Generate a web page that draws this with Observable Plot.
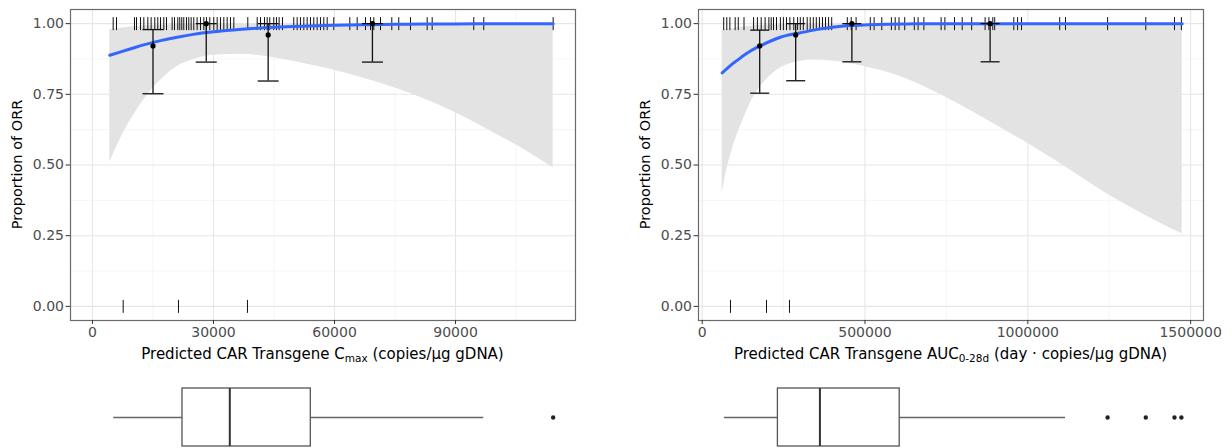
<!DOCTYPE html>
<html>
<head>
<meta charset="utf-8">
<script src="https://cdn.jsdelivr.net/npm/d3@7"></script>
<script src="https://cdn.jsdelivr.net/npm/@observablehq/plot@0.6"></script>
<style>
  body { margin: 0; background: #fff; }
  #wrap { display: flex; width: 1232px; height: 448px; overflow: hidden; }
  .col { width: 616px; display: flex; flex-direction: column; }
  svg { display: block; }
</style>
</head>
<body>
<div id="wrap"><div class="col" id="left"></div><div class="col" id="right"></div></div>
<script>
// ---- Cmax panel -------------------------------------------------------
const cmaxResponders = [5130, 5950, 10410, 10910, 11900, 12730, 13720, 14540, 15450, 16190, 16860, 17680, 18350,
  19750, 20330, 21150, 21640, 22140, 22630, 23300, 23870, 24460, 25110, 25940, 26770, 27600, 28260, 29080, 30070,
  30910, 31730, 32560, 33390, 34210, 35040, 38500, 40830, 41650, 42640, 43310, 43950, 44940, 45610, 46270, 47100,
  49900, 50740, 51560, 52390, 53220, 54040, 54860, 55700, 56520, 57340, 58180, 59820, 63790, 65620, 67680, 68920,
  69740, 71400, 74200, 75930, 78830, 82970, 84210, 94520, 97000, 114200];
const cmaxNonResponders = [7610, 21320, 38420];
const cmaxCurveX = [4290, 7000, 9500, 12700, 16900, 21000, 25000, 30000, 37000, 45000, 52000, 60000, 67000, 75000,
  82000, 90000, 100000, 107000, 114200];
const cmaxFit = [0.888, 0.900, 0.911, 0.925, 0.940, 0.952, 0.962, 0.971, 0.980, 0.987, 0.991, 0.994, 0.996, 0.998,
  0.999, 0.999, 1, 1, 1];
const cmaxLower = [0.51, 0.595, 0.66, 0.73, 0.80, 0.848, 0.873, 0.888, 0.892, 0.879, 0.86, 0.835, 0.808, 0.772, 0.735,
  0.685, 0.61, 0.555, 0.49];
const cmaxUpper = [0.979, 0.984, 0.988, 0.992, 0.995, 0.997, 0.998, 0.999, 1, 1, 1, 1, 1, 1, 1, 1, 1, 1, 1];
const cmaxBinX = [15000, 28200, 43550, 69400];
const cmaxBinP = [0.921, 1, 0.96, 1];
const cmaxBinLo = [0.752, 0.864, 0.797, 0.864];
const cmaxBinHi = [0.979, 1, 1, 1];
const cmaxBox = [5280, 22310, 34040, 54120, 97000]; // whisker low, Q1, median, Q3, whisker high
const cmaxOutliers = [114200];
const cmaxTicks = [0, 30000, 60000, 90000];
const cmaxMinor = [15000, 45000, 75000, 105000];

// ---- AUC0-28d panel ---------------------------------------------------
const aucResponders = [66000, 75500, 85000, 101300, 110800, 128400, 157800, 169500, 181200, 193200, 204800,
  211900, 219000, 228200, 240100, 249400, 258900, 269300, 281300, 293000, 301300, 310500, 322500, 331700, 341200,
  350400, 359900, 369400, 378700, 388200, 397700, 445600, 457600, 472600, 516200, 527900, 551500, 581000, 592700,
  604400, 621900, 651400, 663000, 680800, 733700, 745300, 774800, 798500, 827600, 868800, 880500, 892400, 898300,
  956900, 968600, 980600, 1097900, 1115700, 1245000, 1362300, 1450400, 1471600];
const aucNonResponders = [86900, 197500, 268100];
const aucCurveX = [61400, 76800, 90000, 107500, 128400, 148300, 181200, 240100, 298800, 345800, 400000, 451700,
  510000, 569000, 630000, 685700, 742000, 803000, 863000, 930000, 1003000, 1090200, 1170000, 1253900, 1340000,
  1417600, 1474100];
const aucFit = [0.826, 0.842, 0.855, 0.870, 0.888, 0.903, 0.923, 0.952, 0.967, 0.978, 0.987, 0.993, 0.996, 0.998,
  0.999, 1, 1, 1, 1, 1, 1, 1, 1, 1, 1, 1, 1];
const aucLower = [0.40, 0.49, 0.545, 0.607, 0.667, 0.72, 0.78, 0.843, 0.866, 0.871, 0.868, 0.859, 0.845, 0.828,
  0.803, 0.775, 0.743, 0.706, 0.667, 0.623, 0.574, 0.512, 0.452, 0.39, 0.335, 0.288, 0.257];
const aucUpper = [0.977, 0.980, 0.982, 0.985, 0.988, 0.991, 0.994, 0.997, 0.999, 1, 1, 1, 1, 1, 1, 1, 1, 1, 1, 1,
  1, 1, 1, 1, 1, 1, 1];
const aucBinX = [176600, 287100, 459700, 884200];
const aucBinP = [0.921, 0.96, 1, 1];
const aucBinLo = [0.754, 0.798, 0.865, 0.865];
const aucBinHi = [0.977, 1, 1, 1];
const aucBox = [67900, 232500, 361500, 606500, 1115700];
const aucOutliers = [1245000, 1362300, 1450400, 1471600];
const aucTicks = [0, 500000, 1000000, 1500000];
const aucMinor = [250000, 750000, 1250000];

// ---- shared y axis ----------------------------------------------------
const yTicks = [0, 0.25, 0.5, 0.75, 1];
const yMinor = [0.125, 0.375, 0.625, 0.875];

// short vertical / horizontal strokes used as point symbols (rug ticks, error-bar caps)
const vline = {draw(ctx, size) { const h = Math.sqrt(size / Math.PI); ctx.moveTo(0, -h); ctx.lineTo(0, h); }};
const hline = {draw(ctx, size) { const w = Math.sqrt(size / Math.PI); ctx.moveTo(-w, 0); ctx.lineTo(w, 0); }};

const FONT = "DejaVu Sans";

function panel(cfg) {
  const curve = cfg.curveX.map((x, i) => ({x, fit: cfg.fit[i], lo: cfg.lower[i], hi: cfg.upper[i]}));
  const bins = cfg.binX.map((x, i) => ({x, p: cfg.binP[i], lo: cfg.binLo[i], hi: cfg.binHi[i]}));
  const rug = [...cfg.resp.map(x => ({x, y: 1})), ...cfg.nonResp.map(x => ({x, y: 0}))];
  const W = 616;

  const main = Plot.plot({
    width: W, height: 365,
    marginLeft: cfg.ml, marginRight: cfg.mr, marginTop: 9, marginBottom: 45,
    style: {fontFamily: FONT, fontSize: "14px", color: "#4d4d4d", background: "#fff", overflow: "visible"},
    x: {domain: cfg.domain},
    y: {domain: [-0.05, 1.05]},
    marks: [
      Plot.gridX(cfg.minor, {stroke: "#f3f3f3", strokeOpacity: 1, strokeWidth: 0.8}),
      Plot.gridY(yMinor, {stroke: "#f3f3f3", strokeOpacity: 1, strokeWidth: 0.8}),
      Plot.gridX(cfg.ticks, {stroke: "#e6e6e6", strokeOpacity: 1, strokeWidth: 1.1}),
      Plot.gridY(yTicks, {stroke: "#e6e6e6", strokeOpacity: 1, strokeWidth: 1.1}),
      Plot.areaY(curve, {x: "x", y1: "lo", y2: "hi", fill: "#e3e3e3", curve: "monotone-x"}),
      Plot.dot(rug, {x: "x", y: "y", symbol: vline, r: 6.5, stroke: "#111", strokeWidth: 1}),
      Plot.line(curve, {x: "x", y: "fit", stroke: "#3366ff", strokeWidth: 3, curve: "monotone-x"}),
      Plot.ruleX(bins, {x: "x", y1: "lo", y2: "hi", stroke: "#111", strokeWidth: 1.3}),
      Plot.dot(bins, {x: "x", y: "lo", symbol: hline, r: cfg.cap, stroke: "#111", strokeWidth: 1.3}),
      Plot.dot(bins, {x: "x", y: "hi", symbol: hline, r: cfg.cap, stroke: "#111", strokeWidth: 1.3}),
      Plot.dot(bins, {x: "x", y: "p", r: 2.6, fill: "#000", stroke: null}),
      Plot.frame({stroke: "#6a6a6a", strokeWidth: 1.2}),
      Plot.axisX(cfg.ticks, {tickSize: 4, tickPadding: 3, stroke: "#333", fill: "#4d4d4d",
        tickFormat: d => String(d), label: null}),
      Plot.axisY(yTicks, {tickSize: 4.5, tickPadding: 2, stroke: "#333", fill: "#4d4d4d",
        tickFormat: d3.format(".2f"), label: null})
    ]
  });

  const svg = d3.select(main);
  // y axis title
  svg.append("text")
    .attr("transform", `translate(${cfg.yTitleX},${(9 + 320) / 2}) rotate(-90)`)
    .attr("text-anchor", "middle")
    .attr("font-family", FONT).attr("font-size", 14.5).attr("fill", "#000")
    .text("Proportion of ORR");
  // x axis title with subscript
  const t = svg.append("text")
    .attr("x", (cfg.ml + W - cfg.mr) / 2).attr("y", 359)
    .attr("text-anchor", "middle")
    .attr("font-family", FONT).attr("font-size", 15).attr("fill", "#000");
  t.append("tspan").text(cfg.titleA);
  t.append("tspan").attr("font-size", 10.5).attr("dy", 3).text(cfg.titleSub);
  t.append("tspan").attr("dy", -3).text(cfg.titleB);

  const st = {lo: cfg.box[0], q1: cfg.box[1], med: cfg.box[2], q3: cfg.box[3], hi: cfg.box[4]};
  const box = Plot.plot({
    width: W, height: 83,
    marginLeft: cfg.ml, marginRight: cfg.mr, marginTop: 23, marginBottom: 2,
    style: {background: "#fff", overflow: "visible"},
    x: {domain: cfg.domain, axis: null},
    marks: [
      Plot.ruleY([st], {y: null, x1: "lo", x2: "q1", stroke: "#666", strokeWidth: 1.6}),
      Plot.ruleY([st], {y: null, x1: "q3", x2: "hi", stroke: "#666", strokeWidth: 1.6}),
      Plot.barX([st], {x1: "q1", x2: "q3", fill: "#fff", stroke: "#555", strokeWidth: 1.3}),
      Plot.ruleX([st], {x: "med", stroke: "#333", strokeWidth: 2}),
      Plot.dot(cfg.outliers, {x: d => d, r: 2.2, fill: "#222", stroke: null})
    ]
  });

  const host = document.getElementById(cfg.host);
  host.append(main);
  host.append(box);
}

panel({
  host: "left", ml: 70, mr: 41, domain: [-5450, 119740], cap: 10.5, yTitleX: 22,
  resp: cmaxResponders, nonResp: cmaxNonResponders,
  curveX: cmaxCurveX, fit: cmaxFit, lower: cmaxLower, upper: cmaxUpper,
  binX: cmaxBinX, binP: cmaxBinP, binLo: cmaxBinLo, binHi: cmaxBinHi,
  box: cmaxBox, outliers: cmaxOutliers, ticks: cmaxTicks, minor: cmaxMinor,
  titleA: "Predicted CAR Transgene C", titleSub: "max", titleB: " (copies/μg gDNA)"
});

panel({
  host: "right", ml: 82, mr: 29, domain: [-11360, 1539500], cap: 9.5, yTitleX: 34,
  resp: aucResponders, nonResp: aucNonResponders,
  curveX: aucCurveX, fit: aucFit, lower: aucLower, upper: aucUpper,
  binX: aucBinX, binP: aucBinP, binLo: aucBinLo, binHi: aucBinHi,
  box: aucBox, outliers: aucOutliers, ticks: aucTicks, minor: aucMinor,
  titleA: "Predicted CAR Transgene AUC", titleSub: "0-28d", titleB: " (day · copies/μg gDNA)"
});
</script>
</body>
</html>
